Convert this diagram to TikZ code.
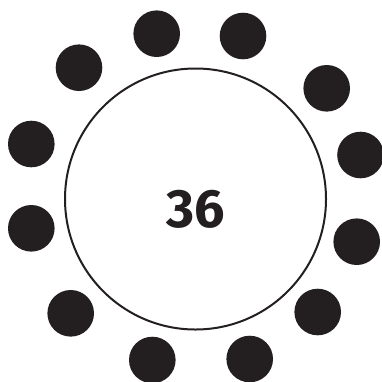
\documentclass[tikz,border=0pt]{standalone}
\usepackage{fontspec}
\setmainfont{Fira Sans}
\definecolor{ink}{HTML}{231F20}
\begin{document}
\begin{tikzpicture}[x=1pt,y=-1pt,
  dot/.style={circle,fill=ink,inner sep=0pt,minimum size=46.6pt},
  ring/.style={circle,draw=ink,line width=2pt,inner sep=0pt,minimum size=261pt}]
\useasboundingbox (0,0) rectangle (382,381);
\node[ring] (c) at (195.5,199) {};
\node[font=\fontsize{54}{60}\selectfont\bfseries,text=ink] (n) at (195.5,209) {36};
\node[dot] (d1) at (156.7,33.7) {};
\node[dot] (d2) at (243,36) {};
\node[dot] (d3) at (79,67.7) {};
\node[dot] (d4) at (326.7,88.3) {};
\node[dot] (d5) at (31.3,144) {};
\node[dot] (d6) at (360.5,155) {};
\node[dot] (d7) at (31.3,228.3) {};
\node[dot] (d8) at (356.7,241.7) {};
\node[dot] (d9) at (70.7,313.3) {};
\node[dot] (d10) at (317.7,312) {};
\node[dot] (d11) at (152.3,360) {};
\node[dot] (d12) at (249.7,359) {};
\end{tikzpicture}
\end{document}
